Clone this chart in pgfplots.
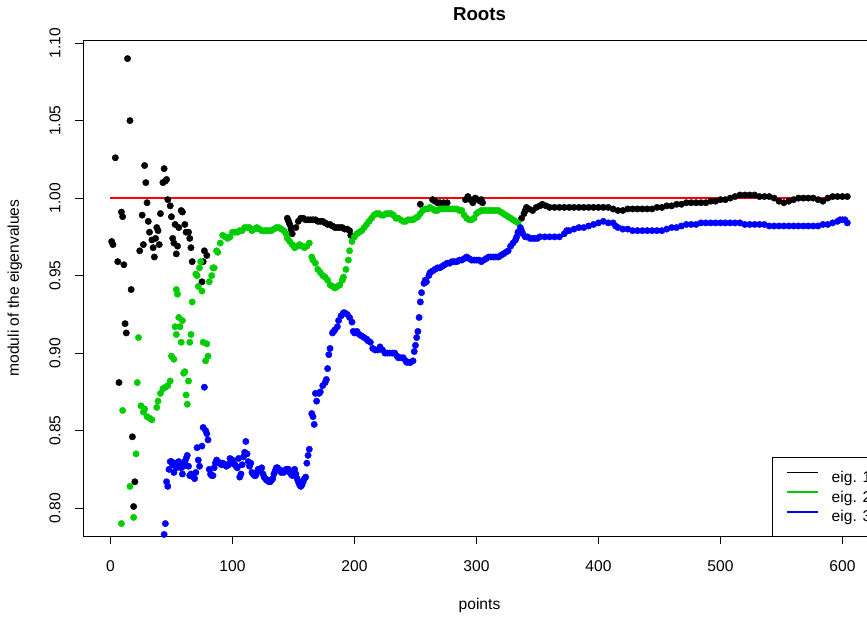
\documentclass[border=0pt]{standalone}
\usepackage{pgfplots}
\pgfplotsset{compat=1.18}
\usepackage{fontspec}
\setmainfont{Liberation Sans}
\definecolor{rgreen}{HTML}{00CD00}
\definecolor{rblue}{HTML}{0000FF}

\begin{document}
\begin{tikzpicture}
\begin{axis}[
  name=ax,
  scale only axis, width=793bp, height=496bp,
  xmin=-22.5, xmax=627.5, ymin=0.782, ymax=1.102,
  xtick={0,100,200,300,400,500,600},
  ytick={0.80,0.85,0.90,0.95,1.00,1.05,1.10},
  /pgf/number format/assume math mode=true,
  yticklabel style={/pgf/number format/.cd, fixed, fixed zerofill, precision=2, /tikz/.cd, rotate=90, anchor=south},
  tick label style={font=\fontsize{15.6bp}{18bp}\selectfont},
  xticklabel shift=13bp, yticklabel shift=11bp,
  tick align=outside, major tick length=8bp,
  xtick pos=bottom, ytick pos=left,
  axis line style={line width=0.8bp},
  tick style={black, line width=0.8bp},
  title={Roots},
  title style={at={(axis description cs:0.5,1)}, anchor=center, yshift=20bp, font=\bfseries\fontsize{18.7bp}{22bp}\selectfont},
  xlabel={points},
  xlabel style={at={(axis description cs:0.5,0)}, anchor=center, yshift=-69bp, font=\fontsize{15.6bp}{18bp}\selectfont},
  ylabel={moduli of the eigenvalues},
  ylabel style={at={(axis description cs:-0.0858,0.5)}, anchor=center, font=\fontsize{15.6bp}{18bp}\selectfont},
  legend cell align=left,
  legend style={at={(0.8689,0)}, anchor=south west, draw=none, fill=none,
    font=\fontsize{15.6bp}{18bp}\selectfont, row sep=7bp, inner xsep=14bp, inner ysep=12.5bp,
    nodes={inner sep=0pt}, /tikz/every odd column/.style={column sep=13bp}},
  dots/.style={only marks, mark=*, mark size=3.2bp},
]
% eig. 1
\addplot[black, dots, forget plot] coordinates {
(1,0.972)(2,0.970)(4,1.026)(6,0.959)(7,0.881)(9,0.991)(10,0.988)(11,0.957)(12,0.919)(13,0.913)
(14,1.090)(16,1.050)(17,0.941)(18,0.846)(19,0.801)(20,0.817)(24,0.966)(26,0.989)(27,0.970)(28,1.021)
(29,1.010)(30,0.997)(31,0.985)(32,0.978)(34,0.973)(35,0.968)(36,0.962)(37,0.974)(38,0.981)(39,0.979)
(40,0.970)(41,0.990)(43,1.010)(44,1.019)(45,1.011)(46,1.012)(47,0.999)(49,0.995)(50,0.988)(51,0.974)
(52,0.971)(53,0.983)(54,0.964)(55,0.969)(56,0.981)(58,0.992)(59,0.991)(61,0.983)(62,0.978)(64,0.978)
(65,0.974)(66,0.968)(67,0.959)(75,0.946)(76,0.959)(77,0.966)(79,0.963)
(145,0.987)(146,0.985)(147,0.983)(148,0.980)(149,0.977)(152,0.981)(154,0.985)(156,0.987)(158,0.987)(160,0.986)
(162,0.986)(164,0.986)(166,0.986)(168,0.986)(170,0.985)(172,0.985)(174,0.985)(176,0.984)(178,0.983)
(180,0.983)(182,0.982)(184,0.981)(186,0.981)(188,0.981)(190,0.981)(192,0.980)(194,0.980)(196,0.979)(197,0.976)
(254,0.996)(264,0.999)(266,0.998)(268,0.997)(270,0.997)(273,0.997)(276,0.997)(291,0.999)(293,1.001)
(295,0.999)(297,0.997)(299,1.000)(301,0.999)(303,0.998)(304,0.999)(305,0.997)
(337,0.987)(339,0.990)(340,0.992)(341,0.994)(343,0.993)(346,0.992)(349,0.994)(352,0.995)(354,0.996)
(357,0.995)(360,0.994)(364,0.994)(368,0.994)(372,0.994)(376,0.994)(380,0.994)(384,0.994)(388,0.994)
(392,0.994)(396,0.994)(400,0.994)(404,0.994)(408,0.994)(412,0.993)(416,0.992)(420,0.992)(424,0.993)
(428,0.993)(432,0.993)(436,0.993)(440,0.993)(444,0.993)(448,0.994)(452,0.994)(456,0.995)(460,0.995)
(464,0.996)(468,0.996)(472,0.997)(476,0.997)(480,0.997)(484,0.997)(488,0.997)(492,0.998)(496,0.998)
(500,0.999)(504,0.999)(508,1.000)(512,1.001)(516,1.002)(520,1.002)(524,1.002)(528,1.002)(532,1.001)
(536,1.001)(540,1.001)(544,1.000)(548,0.998)(552,0.997)(556,0.998)(560,0.999)(564,1.000)(568,1.000)
(572,1.000)(576,1.000)(580,0.999)(584,0.998)(588,1.000)(592,1.001)(596,1.001)(600,1.001)(604,1.001)
};
% eig. 2
\addplot[rgreen, dots, forget plot] coordinates {
(9,0.790)(10,0.863)(16,0.814)(19,0.794)(21,0.835)(22,0.881)(23,0.910)(25,0.866)(27,0.862)(28,0.864)
(30,0.859)(32,0.858)(34,0.857)(38,0.865)(39,0.869)(41,0.874)(43,0.877)(45,0.878)(47,0.879)(49,0.882)
(50,0.898)(52,0.896)(53,0.917)(54,0.941)(54,0.912)(55,0.938)(56,0.923)(57,0.917)(58,0.907)(59,0.921)
(60,0.887)(61,0.888)(62,0.873)(63,0.867)(64,0.882)(65,0.907)(66,0.912)(67,0.933)(70,0.951)(71,0.950)
(72,0.943)(73,0.955)(74,0.959)(75,0.940)(76,0.907)(78,0.895)(79,0.906)(80,0.898)(81,0.946)(83,0.950)
(84,0.955)(85,0.955)(87,0.966)(88,0.965)(90,0.971)(92,0.976)(94,0.975)(96,0.974)(98,0.975)(100,0.978)
(102,0.978)(104,0.978)(106,0.979)(108,0.979)(110,0.981)(112,0.981)(114,0.981)(116,0.979)(118,0.980)
(120,0.981)(122,0.980)(124,0.979)(126,0.979)(128,0.979)(130,0.979)(132,0.979)(134,0.980)(136,0.981)
(138,0.981)(140,0.980)(142,0.979)(144,0.977)(145,0.974)(147,0.972)(149,0.970)(151,0.968)(153,0.969)
(155,0.970)(157,0.969)(159,0.968)(161,0.969)(163,0.971)(165,0.962)(166,0.960)(168,0.958)(170,0.954)
(172,0.952)(174,0.950)(176,0.949)(178,0.947)(180,0.944)(182,0.943)(184,0.942)(186,0.943)(188,0.944)
(190,0.947)(191,0.949)(193,0.954)(195,0.960)(196,0.966)(198,0.972)(200,0.975)(202,0.977)(204,0.978)
(206,0.979)(208,0.981)(210,0.983)(212,0.985)(214,0.987)(216,0.989)(218,0.990)(220,0.990)(222,0.989)
(224,0.989)(226,0.990)(228,0.990)(230,0.990)(232,0.989)(234,0.987)(236,0.987)(238,0.986)(240,0.985)
(242,0.985)(244,0.986)(246,0.986)(248,0.986)(250,0.987)(252,0.988)(254,0.990)(256,0.992)(258,0.993)
(260,0.993)(262,0.994)(264,0.993)(266,0.992)(268,0.992)(270,0.993)(272,0.993)(274,0.993)(276,0.993)
(278,0.993)(280,0.993)(282,0.993)(284,0.993)(286,0.992)(288,0.992)(290,0.989)(292,0.987)(294,0.986)
(296,0.986)(298,0.987)(300,0.990)(302,0.991)(304,0.992)(306,0.992)(308,0.992)(310,0.992)(312,0.992)
(314,0.992)(316,0.992)(318,0.992)(320,0.991)(322,0.990)(324,0.989)(326,0.988)(328,0.987)(330,0.986)
(332,0.985)(334,0.984)
};
% eig. 3
\addplot[rblue, dots, forget plot] coordinates {
(44,0.783)(45,0.790)(46,0.817)(47,0.814)(48,0.825)(49,0.830)(50,0.830)(51,0.828)(52,0.823)(53,0.829)
(54,0.826)(55,0.828)(56,0.830)(57,0.829)(58,0.826)(59,0.822)(60,0.827)(61,0.830)(62,0.832)(63,0.834)
(64,0.827)(65,0.821)(66,0.822)(67,0.821)(68,0.820)(69,0.819)(70,0.823)(71,0.839)(72,0.831)(73,0.827)
(75,0.840)(76,0.852)(77,0.878)(78,0.850)(79,0.848)(80,0.844)(81,0.825)(82,0.822)(83,0.821)(84,0.821)
(85,0.826)(86,0.829)(87,0.831)(88,0.830)(89,0.829)(90,0.829)(91,0.828)(92,0.829)(93,0.828)(94,0.828)
(95,0.827)(96,0.828)(97,0.828)(98,0.832)(99,0.830)(100,0.831)(101,0.829)(102,0.828)(103,0.827)(104,0.826)
(105,0.832)(106,0.820)(107,0.822)(108,0.828)(109,0.833)(110,0.836)(111,0.843)(112,0.835)(113,0.830)
(114,0.827)(115,0.829)(116,0.823)(117,0.822)(118,0.821)(119,0.821)(120,0.823)(121,0.825)(122,0.825)
(123,0.825)(124,0.826)(125,0.822)(126,0.820)(127,0.819)(128,0.818)(129,0.818)(130,0.817)(131,0.817)
(132,0.818)(133,0.819)(134,0.822)(135,0.824)(136,0.826)(137,0.826)(138,0.825)(139,0.824)(140,0.823)
(141,0.824)(142,0.823)(143,0.824)(144,0.825)(145,0.825)(146,0.825)(147,0.823)(148,0.822)(149,0.821)
(150,0.823)(151,0.825)(152,0.822)(153,0.819)(154,0.817)(155,0.815)(156,0.814)(157,0.815)(158,0.817)
(159,0.819)(160,0.820)(161,0.829)(162,0.834)(163,0.838)(165,0.861)(166,0.859)(167,0.854)(168,0.874)
(169,0.869)(171,0.874)(172,0.875)(174,0.879)(176,0.881)(177,0.883)(178,0.890)(179,0.899)(180,0.903)
(182,0.913)(183,0.914)(184,0.915)(186,0.917)(187,0.921)(189,0.924)(191,0.926)(192,0.926)(194,0.925)
(196,0.923)(198,0.920)(199,0.914)(200,0.913)(202,0.914)(204,0.912)(206,0.911)(208,0.910)(210,0.909)
(211,0.908)(213,0.907)(215,0.903)(217,0.902)(219,0.902)(221,0.904)(223,0.902)(225,0.900)(227,0.900)
(229,0.900)(231,0.900)(233,0.900)(235,0.898)(236,0.897)(238,0.897)(240,0.897)(242,0.895)(243,0.894)
(245,0.894)(246,0.894)(248,0.895)(249,0.901)(250,0.905)(251,0.910)(252,0.914)(253,0.923)(254,0.933)
(255,0.939)(257,0.945)(258,0.947)(259,0.946)(261,0.950)(262,0.952)(264,0.953)(266,0.954)(268,0.955)
(270,0.955)(272,0.956)(274,0.957)(276,0.958)(278,0.958)(280,0.959)(282,0.959)(284,0.959)(286,0.960)
(288,0.960)(290,0.961)(292,0.962)(294,0.961)(296,0.960)(298,0.960)(300,0.960)(302,0.960)(304,0.959)
(306,0.960)(308,0.961)(310,0.962)(312,0.962)(314,0.962)(316,0.962)(318,0.962)(320,0.963)(322,0.964)
(324,0.965)(326,0.966)(328,0.969)(330,0.971)(332,0.973)(333,0.975)(334,0.978)(336,0.981)(337,0.979)
(338,0.977)(340,0.975)(342,0.975)(344,0.974)(346,0.974)(348,0.974)(350,0.974)(352,0.975)(356,0.975)
(360,0.975)(364,0.975)(368,0.975)(372,0.977)(374,0.979)(376,0.979)(380,0.980)(384,0.981)(388,0.981)
(392,0.982)(396,0.983)(400,0.984)(404,0.985)(408,0.984)(412,0.984)(414,0.982)(416,0.981)(420,0.980)
(424,0.980)(428,0.979)(432,0.979)(436,0.979)(440,0.979)(444,0.979)(448,0.979)(452,0.979)(456,0.980)
(460,0.981)(464,0.981)(468,0.982)(472,0.983)(476,0.983)(480,0.983)(484,0.984)(488,0.984)(492,0.984)
(496,0.984)(500,0.984)(504,0.984)(508,0.984)(512,0.984)(516,0.984)(520,0.983)(524,0.983)(528,0.983)
(532,0.983)(536,0.983)(540,0.982)(544,0.982)(548,0.982)(552,0.982)(556,0.982)(560,0.982)(564,0.982)
(568,0.982)(572,0.982)(576,0.982)(580,0.982)(584,0.983)(588,0.983)(592,0.984)(596,0.985)(598,0.986)
(600,0.986)(602,0.986)(604,0.984)
};
% reference line at 1
\addplot[red, line width=1.2bp, no marks, forget plot] coordinates {(0,1)(604,1)};
\addlegendimage{legend image code/.code={\draw[draw=black, line width=1.5bp] (0bp,5bp) -- (31bp,5bp);}}
\addlegendentry{eig. 1}
\addlegendimage{legend image code/.code={\draw[draw=rgreen, line width=1.5bp] (0bp,5bp) -- (31bp,5bp);}}
\addlegendentry{eig. 2}
\addlegendimage{legend image code/.code={\draw[draw=rblue, line width=1.5bp] (0bp,5bp) -- (31bp,5bp);}}
\addlegendentry{eig. 3}
\end{axis}
% legend frame, open to the right as in the cropped reference
\draw[line width=0.8bp] ([shift={(689bp,0bp)}]ax.south west) rectangle ([shift={(820bp,79bp)}]ax.south west);
\pgfresetboundingbox
\path[use as bounding box] ([shift={(-83bp,-83bp)}]ax.south west) rectangle ([shift={(784bp,536bp)}]ax.south west);
\end{tikzpicture}
\end{document}
